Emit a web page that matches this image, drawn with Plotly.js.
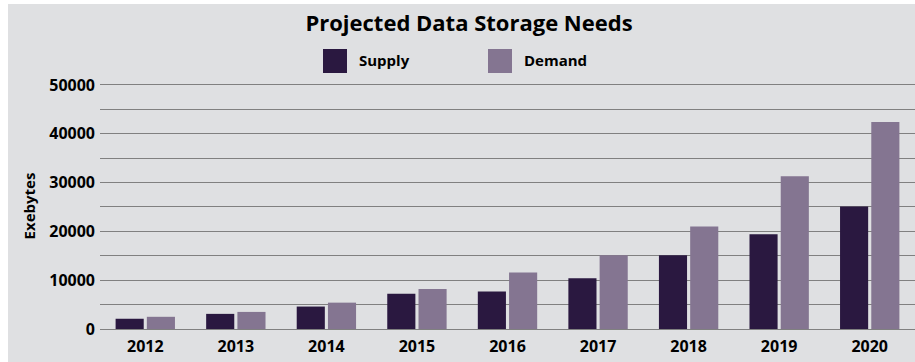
<!DOCTYPE html>
<html>
<head>
<meta charset="utf-8">
<script src="https://cdn.plot.ly/plotly-3.0.1.min.js"></script>
<style>
  html, body { margin: 0; padding: 0; background: #ffffff; }
  #chart { position: absolute; left: 8px; top: 4px; width: 907px; height: 358px; }
</style>
</head>
<body>
<div id="chart"></div>
<script>
// ---- data ----
const years = ['2012', '2013', '2014', '2015', '2016', '2017', '2018', '2019', '2020'];
const supply = [2100, 3100, 4600, 7200, 7700, 10400, 15100, 19400, 25100];
const demand = [2500, 3500, 5400, 8200, 11600, 15100, 21000, 31300, 42400];
const seriesNames = ['Supply', 'Demand'];
const seriesColors = ['#2a1840', '#847591'];
const yTickVals = [0, 10000, 20000, 30000, 40000, 50000];
const yTickText = ['0', '10000', '20000', '30000', '40000', '50000'];

const FONT = '"Open Sans", "Noto Sans", sans-serif';

// plot-area geometry (pixels inside the div)
const W = 907, H = 358;
const M = { l: 92, r: 0, t: 79, b: 33 };
const PW = W - M.l - M.r, PH = H - M.t - M.b;
const px2x = p => (p - M.l) / PW;
const py2y = p => (H - M.b - p) / PH;

const traces = [supply, demand].map((vals, i) => ({
  type: 'bar',
  name: seriesNames[i],
  x: years,
  y: vals,
  marker: { color: seriesColors[i], line: { width: 0 } },
  showlegend: false,
  hoverinfo: 'x+y+name'
}));

// custom legend keys (large squares like the reference)
const legendKeyLeft = [315, 480];
const legendKeySize = 24;
const legendTop = 45;
const shapes = [];
const annotations = [];
seriesNames.forEach((nm, i) => {
  shapes.push({
    type: 'rect', xref: 'paper', yref: 'paper',
    x0: px2x(legendKeyLeft[i]), x1: px2x(legendKeyLeft[i] + legendKeySize),
    y0: py2y(legendTop + legendKeySize), y1: py2y(legendTop),
    fillcolor: seriesColors[i], line: { width: 0 }
  });
  annotations.push({
    xref: 'paper', yref: 'paper',
    x: px2x(legendKeyLeft[i] + legendKeySize + 10), y: py2y(legendTop + legendKeySize / 2 - 1),
    xanchor: 'left', yanchor: 'middle', showarrow: false,
    text: '<b>' + nm + '</b>',
    font: { family: FONT, size: 15, color: '#000000' }
  });
});

const layout = {
  width: W, height: H,
  margin: M,
  paper_bgcolor: '#dfe0e2',
  plot_bgcolor: '#dfe0e2',
  title: {
    text: '<b>Projected Data Storage Needs</b>',
    font: { family: FONT, size: 22, color: '#000000' },
    xref: 'container', x: 461 / W, xanchor: 'center',
    yref: 'container', y: 1 - 19 / H, yanchor: 'middle'
  },
  barmode: 'group',
  bargap: 0.31,
  bargroupgap: 0.1,
  xaxis: {
    type: 'category',
    range: [-0.5, years.length - 0.5],
    showgrid: false, zeroline: false, showline: false,
    ticks: '',
    ticklabelstandoff: 6,
    tickfont: { family: FONT, size: 16, color: '#000000', weight: 'bold' },
    fixedrange: true
  },
  yaxis: {
    range: [0, 50400],
    tickvals: yTickVals,
    ticktext: yTickText,
    showgrid: true, gridcolor: '#808080', gridwidth: 1,
    minor: { dtick: 5000, showgrid: true, gridcolor: '#808080', gridwidth: 1 },
    zeroline: true, zerolinecolor: '#808080', zerolinewidth: 1,
    showline: false, ticks: '',
    ticklabelstandoff: 4,
    tickfont: { family: FONT, size: 16, color: '#000000', weight: 'bold' },
    title: {
      text: '<b>Exebytes</b>',
      font: { family: FONT, size: 15, color: '#000000' },
      standoff: 10
    },
    automargin: false,
    fixedrange: true
  },
  shapes: shapes,
  annotations: annotations,
  showlegend: false,
  font: { family: FONT }
};

Plotly.newPlot('chart', traces, layout, { displayModeBar: false, staticPlot: true });
</script>
</body>
</html>
